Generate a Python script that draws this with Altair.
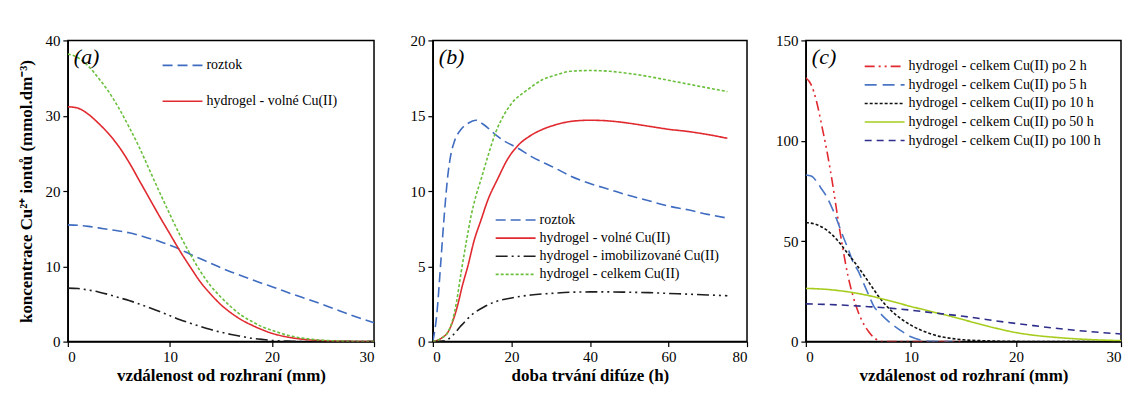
import altair as alt
import pandas as pd

# ---------------- panel (a): concentration vs distance ----------------
S_ROZ = "roztok"
S_VOL = "hydrogel - volné Cu(II)"
S_IMO = "hydrogel - imobilizované Cu(II)"
S_CEL = "hydrogel - celkem Cu(II)"

a_x = [0, 1, 2, 3, 4, 5, 6, 7, 8, 9, 10, 11, 12, 13, 14, 15, 16, 17, 18, 19, 20, 22, 24, 26, 28, 30]
a_roztok = [15.5, 15.45, 15.3, 15.1, 14.9, 14.7, 14.45, 14.1, 13.7, 13.3, 12.8, 12.25, 11.6, 11.0, 10.4,
            9.8, 9.25, 8.75, 8.25, 7.75, 7.3, 6.3, 5.4, 4.4, 3.4, 2.5]
a_volne = [31.2, 31.0, 30.2, 29.0, 27.6, 25.9, 23.8, 21.4, 19.0, 16.6, 14.3, 12.0, 9.9, 7.9, 6.3,
           4.9, 3.8, 2.9, 2.2, 1.6, 1.1, 0.5, 0.2, 0.07, 0.02, 0.0]
a_imob = [7.1, 7.05, 6.85, 6.6, 6.25, 5.85, 5.45, 5.0, 4.5, 4.0, 3.45, 2.9, 2.45, 2.0, 1.6,
          1.25, 0.95, 0.7, 0.45, 0.3, 0.15, 0.05, 0.0, 0.0, 0.0, 0.0]
a_celkem = [38.2, 37.7, 36.6, 35.0, 33.2, 31.0, 28.5, 25.8, 22.8, 19.8, 16.9, 14.1, 11.6, 9.3, 7.4,
            5.9, 4.6, 3.5, 2.7, 2.0, 1.5, 0.7, 0.3, 0.1, 0.03, 0.0]

# ---------------- panel (b): concentration vs diffusion time ----------------
b_roztok_x = [0, 1, 2, 2.5, 3, 3.8, 4.5, 5.5, 7.2, 9, 11, 13, 15.7, 18, 21.6, 25, 31.3, 35, 40, 45, 50, 55, 60, 65, 70, 75]
b_roztok_y = [0, 1.8, 5.2, 7.0, 8.7, 11.0, 12.3, 13.3, 14.1, 14.5, 14.7, 14.4, 13.8, 13.35, 12.85, 12.3, 11.5,
              11.0, 10.5, 10.1, 9.7, 9.35, 9.0, 8.75, 8.45, 8.2]
b_volne_x = [0, 2, 4, 5, 6.3, 7.5, 8.9, 10.5, 12.3, 14, 16.5, 19, 21.6, 25, 28, 31.3, 36, 40, 45, 50, 55, 60, 65, 70, 75]
b_volne_y = [0, 0.2, 0.7, 1.3, 2.4, 3.7, 5.0, 6.7, 8.1, 9.4, 10.8, 12.1, 13.0, 13.7, 14.1, 14.4, 14.65, 14.7,
             14.65, 14.5, 14.3, 14.1, 13.95, 13.75, 13.5]
b_imob_x = [0, 3, 5, 7, 10, 13, 16, 20, 25, 30, 35, 40, 45, 50, 55, 60, 65, 70, 75]
b_imob_y = [0, 0.05, 0.4, 1.0, 1.8, 2.3, 2.65, 2.9, 3.1, 3.2, 3.28, 3.3, 3.3, 3.28, 3.25, 3.2, 3.15, 3.1, 3.05]
b_celkem_x = [0, 2, 4, 5, 6, 7.2, 8.5, 9.7, 11, 12.3, 14, 16, 18, 20, 24, 28, 31.3, 35, 40, 45, 50, 55, 60, 65, 70, 75]
b_celkem_y = [0, 0.2, 0.7, 1.4, 2.6, 4.6, 6.6, 8.3, 9.7, 10.8, 12.3, 13.9, 15.0, 15.8, 16.7, 17.4, 17.7, 17.95,
              18.0, 17.95, 17.8, 17.6, 17.35, 17.1, 16.85, 16.6]

# ---------------- panel (c): total Cu(II) profiles at several times ----------------
C_2 = "hydrogel - celkem Cu(II) po 2 h"
C_5 = "hydrogel - celkem Cu(II) po 5 h"
C_10 = "hydrogel - celkem Cu(II) po 10 h"
C_50 = "hydrogel - celkem Cu(II) po 50 h"
C_100 = "hydrogel - celkem Cu(II) po 100 h"

c_2h_x = [0, 0.5, 1, 1.5, 2, 2.5, 3, 3.5, 4, 4.5, 5, 5.5, 6, 6.5, 7, 7.5, 10, 15]
c_2h_y = [131.4, 128, 120, 108, 95, 80, 63, 47, 33, 22.5, 14.5, 8.8, 4.8, 1.9, 0.4, 0, 0, 0]
c_5h_x = [0, 0.5, 1, 1.5, 2, 2.5, 3, 3.5, 4, 4.5, 5, 5.5, 6, 6.5, 7, 7.5, 8, 9, 10, 11, 12, 14]
c_5h_y = [83, 82.5, 80, 76, 72, 66.5, 60, 53, 46.5, 39.5, 35, 29, 23, 17.3, 14.5, 11.8, 9.5, 5.6, 2.4, 0.7, 0.1, 0]
c_10h_x = [0, 1, 2, 3, 4, 5, 6, 7, 8, 9, 10, 11, 12, 13, 14, 15, 17, 20, 25, 30]
c_10h_y = [59.3, 58.3, 55.5, 50.5, 43.8, 37, 29.5, 22, 16, 11.6, 8.2, 5.6, 3.7, 2.3, 1.5, 0.9, 0.4, 0.1, 0, 0]
c_50h_x = [0, 2, 4, 6, 8, 10, 12, 14, 16, 18, 20, 22, 24, 26, 28, 30]
c_50h_y = [26.5, 26, 24.8, 22.9, 20.3, 17.5, 14.9, 12.3, 9.5, 6.8, 4.5, 3.0, 2.0, 1.3, 0.8, 0.5]
c_100h_x = [0, 3, 6, 9, 12, 15, 18, 21, 24, 27, 30]
c_100h_y = [18.8, 18.3, 17.4, 16.2, 14.4, 12.6, 10.4, 8.4, 6.5, 5.0, 3.8]


def long(series):
    rows = []
    for name, xs, ys in series:
        for xv, yv in zip(xs, ys):
            rows.append({"x": xv, "y": yv, "s": name})
    return pd.DataFrame(rows)


df_a = long([(S_ROZ, a_x, a_roztok), (S_VOL, a_x, a_volne), (S_IMO, a_x, a_imob), (S_CEL, a_x, a_celkem)])
df_b = long([(S_ROZ, b_roztok_x, b_roztok_y), (S_VOL, b_volne_x, b_volne_y),
             (S_IMO, b_imob_x, b_imob_y), (S_CEL, b_celkem_x, b_celkem_y)])
df_c = long([(C_2, c_2h_x, c_2h_y), (C_5, c_5h_x, c_5h_y), (C_10, c_10h_x, c_10h_y),
             (C_50, c_50h_x, c_50h_y), (C_100, c_100h_x, c_100h_y)])

AB_DOMAIN = [S_ROZ, S_VOL, S_IMO, S_CEL]
AB_COLORS = ["#3f6cc0", "#e02a30", "#1e1e1e", "#6abf3c"]
AB_DASHES = [[10, 5], [1, 0], [12, 4, 2, 4, 2, 4], [3, 2]]
C_DOMAIN = [C_2, C_5, C_10, C_50, C_100]
C_COLORS = ["#e02a30", "#4a76c6", "#111111", "#a6cc1e", "#2e2e8c"]
C_DASHES = [[10, 4, 2, 4, 2, 4], [12, 6], [3, 2], [1, 0], [7, 5]]

FONT = "Liberation Serif"


def panel(df, xdom, xticks, ydom, yticks, xtitle, ytitle, domain, colors, dashes,
          legvals, legx, legy, rowpad, label, w, h):
    leg = alt.Legend(title=None, orient="none", legendX=legx, legendY=legy, values=legvals,
                     symbolType="stroke", symbolSize=1600, symbolStrokeWidth=1.6,
                     labelFont=FONT, labelFontSize=14, labelColor="black", labelOffset=3,
                     labelLimit=400, rowPadding=rowpad, padding=0, clipHeight=14)
    lines = alt.Chart(df).mark_line(strokeWidth=1.6, interpolate="monotone", clip=True).encode(
        x=alt.X("x:Q", scale=alt.Scale(domain=xdom, nice=False, zero=False),
                axis=alt.Axis(values=xticks, title=xtitle, format="d")),
        y=alt.Y("y:Q", scale=alt.Scale(domain=ydom, nice=False),
                axis=alt.Axis(values=yticks, title=ytitle, format="d")),
        color=alt.Color("s:N", scale=alt.Scale(domain=domain, range=colors), legend=leg),
        strokeDash=alt.StrokeDash("s:N", scale=alt.Scale(domain=domain, range=dashes), legend=leg),
    )
    txt = alt.Chart(pd.DataFrame({"t": [label]})).mark_text(
        font=FONT, fontStyle="italic", fontSize=22, align="left", baseline="middle", color="black"
    ).encode(text="t:N", x=alt.value(6), y=alt.value(17))
    return alt.layer(lines, txt).properties(width=w, height=h)


ytitle_a = "koncentrace  Cu²⁺ iontů (mmol.dm⁻³)"

pa = panel(df_a, [0, 30], [0, 10, 20, 30], [0, 40], [0, 10, 20, 30, 40],
           "vzdálenost od rozhraní (mm)", ytitle_a, AB_DOMAIN, AB_COLORS, AB_DASHES,
           [S_ROZ, S_VOL], 94, 18, 22, "(a)", 307, 302)
pb = panel(df_b, [0, 80], [0, 20, 40, 60, 80], [0, 20], [0, 5, 10, 15, 20],
           "doba trvání difúze (h)", "", AB_DOMAIN, AB_COLORS, AB_DASHES,
           AB_DOMAIN, 62, 173, 4.2, "(b)", 315, 302)
pc = panel(df_c, [0, 30], [0, 10, 20, 30], [0, 150], [0, 50, 100, 150],
           "vzdálenost od rozhraní (mm)", "", C_DOMAIN, C_COLORS, C_DASHES,
           C_DOMAIN, 58, 19, 4.6, "(c)", 316, 302)

chart = alt.hconcat(pa, pb, pc, spacing=59, bounds="flush").resolve_scale(
    color="independent", strokeDash="independent"
).properties(
    padding={"left": 9, "top": 24, "right": 0, "bottom": 0}, background="white"
).configure(
    font=FONT
).configure_view(
    stroke="black", strokeWidth=1.5
).configure_axis(
    grid=False, domainColor="black", domainWidth=1.3, tickColor="black", tickSize=5, tickWidth=1.2,
    labelFont=FONT, labelFontSize=15, labelColor="black", labelPadding=3,
    titleFont=FONT, titleFontSize=17, titleFontWeight="bold", titleColor="black", titlePadding=3
).configure_axisY(titlePadding=9).configure_legend(
    labelFont=FONT, labelFontSize=14, labelColor="black"
)

chart.save("out.html", embed_options={"renderer": "svg", "actions": False})
